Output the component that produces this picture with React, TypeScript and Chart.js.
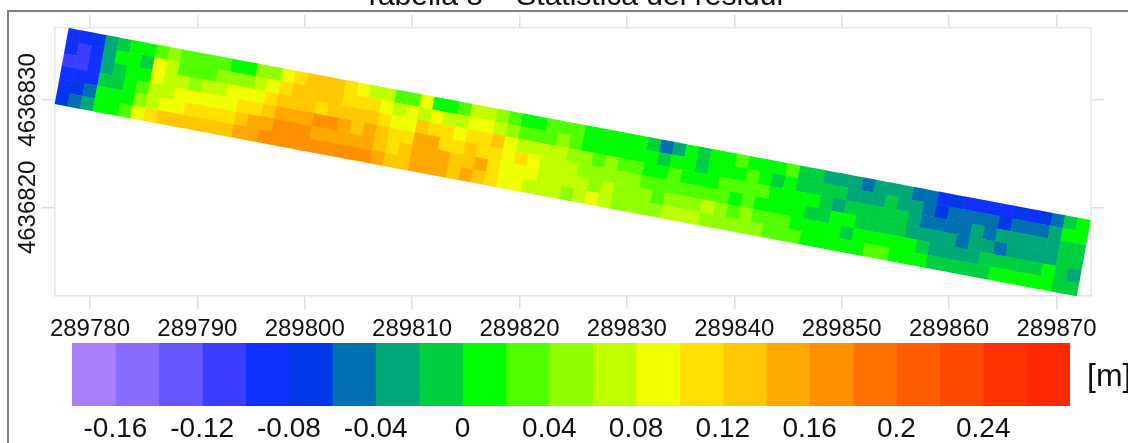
import React, { useEffect, useRef } from "react";
import { Chart, registerables } from "chart.js";

Chart.register(...registerables);

const titleText = "Tabella 8 – Statistica dei residui";
const unitText = "[m]";
const xTicks = [289780, 289790, 289800, 289810, 289820, 289830, 289840, 289850, 289860, 289870];
const yTicks = [4636820, 4636830];
const legendTicks = [-0.16, -0.12, -0.08, -0.04, 0, 0.04, 0.08, 0.12, 0.16, 0.2, 0.24];
const classColors = [
  "#A97FFF", "#8A6BFF", "#6658FF", "#3D3DFF", "#1030FF", "#0038E8", "#0070B0", "#00A878",
  "#00D040", "#00FF00", "#50FF00", "#90FF00", "#C0FF00", "#F0FF00", "#FFE000", "#FFC800",
  "#FFA800", "#FF9000", "#FF7000", "#FF5C00", "#FF4800", "#FF3400", "#FF2800",
];
const classStart = -0.18;
const classStep = 0.02;

// strip corners, map coordinates
const cornerBL = [289776.74, 4636829.63];
const cornerTL = [289778.04, 4636836.68];
const cornerBR = [289871.87, 4636811.75];

// residuals [m], one array per row of the strip, top edge first
const row0 = [
  -.09,-.09,-.07,-.03,-.01,.01,.01,.03,.05,.03,.03,.03,.03,.01,.01,.05,
  .05,.09,.11,.13,.13,.13,.11,.09,.07,.07,.03,.03,.09,.01,.01,.03,
  .07,.07,.05,.03,.01,.01,.03,.03,.03,.01,.01,.01,.01,.01,-.01,-.05,
  -.03,.01,-.01,.01,.01,.03,.01,.01,.01,.03,-.01,-.01,-.03,-.03,-.03,-.05,
  -.03,-.03,-.03,-.05,-.05,-.09,-.07,-.09,-.09,-.09,-.09,-.07,-.09,-.07,-.05,-.01,.01,
];
const row1 = [
  -.09,-.11,-.09,-.03,.01,.01,-.01,.09,.07,.03,.03,.03,.05,.05,.05,.07,
  .09,.11,.13,.13,.13,.13,.11,.11,.11,.09,.07,.09,.07,.09,.07,.07,
  .09,.09,.07,.05,.03,.03,.03,.05,.03,.01,.01,.01,.01,.01,.01,-.01,
  .01,.01,-.01,.01,.01,.01,.03,.01,-.01,.01,-.01,-.01,-.01,-.01,-.03,-.03,
  -.03,-.01,-.03,-.03,-.05,-.07,-.05,-.05,-.05,-.05,-.07,-.05,-.05,-.05,-.03,.01,.01,
];
const row2 = [
  -.11,-.11,-.09,-.03,-.01,.01,.01,.09,.07,.07,.05,.07,.07,.09,.09,.09,
  .11,.13,.13,.13,.11,.13,.13,.13,.13,.11,.09,.09,.13,.11,.11,.09,
  .11,.11,.13,.09,.07,.07,.07,.07,.05,.05,.03,.05,.03,.03,.01,.01,
  .03,.01,.01,.01,.03,.03,.03,.03,.01,.01,.01,.01,-.01,-.03,-.01,-.01,
  -.01,-.01,-.01,-.03,-.05,-.05,-.05,-.05,-.03,-.05,-.03,-.03,-.03,-.03,-.03,-.01,-.01,
];
const row3 = [
  -.09,-.09,-.09,-.01,-.01,.01,.03,.07,.07,.09,.09,.09,.09,.09,.11,.11,
  .13,.15,.15,.15,.17,.17,.15,.13,.15,.13,.11,.11,.15,.15,.11,.11,
  .13,.11,.11,.09,.11,.09,.07,.07,.07,.05,.05,.05,.05,.05,.03,.03,
  .03,.03,.03,.03,.03,.01,.03,.01,.01,.01,.01,-.01,-.01,.01,.01,-.01,
  -.01,-.01,-.01,-.03,-.03,-.03,-.03,-.05,-.03,-.03,-.05,-.03,-.03,-.03,-.03,-.01,-.01,
];
const row4 = [
  -.09,-.07,-.05,.01,.01,.01,.05,.07,.09,.09,.11,.11,.11,.11,.13,.15,
  .15,.17,.17,.17,.15,.15,.15,.15,.15,.13,.11,.13,.15,.15,.15,.13,
  .13,.15,.11,.09,.09,.09,.07,.07,.07,.07,.05,.07,.05,.05,.05,.03,
  .05,.05,.05,.07,.05,.03,.05,.03,.03,.03,.01,.01,.01,.01,-.01,.01,
  .01,.01,.01,.01,-.01,-.03,-.03,-.03,-.03,-.01,-.01,-.01,-.01,-.01,.01,-.01,-.03,
];
const row5 = [
  -.07,-.05,-.03,.01,.01,.03,.09,.11,.13,.13,.13,.13,.13,.13,.15,.15,
  .17,.17,.17,.17,.17,.17,.17,.17,.17,.15,.13,.13,.15,.15,.15,.13,
  .15,.13,.11,.09,.09,.07,.07,.07,.05,.07,.09,.07,.05,.05,.05,.05,
  .07,.07,.07,.05,.05,.05,.05,.05,.03,.03,.03,.01,.01,.01,.01,.01,
  .03,.03,.01,.01,.01,-.01,-.01,-.01,-.01,-.01,.01,.01,.01,.01,.01,-.01,-.01,
];
const rows = [row0, row1, row2, row3, row4, row5];

function classOf(v: number) {
  const i = Math.floor((v - classStart) / classStep + 1e-6);
  return Math.max(0, Math.min(classColors.length - 1, i));
}

function buildCells() {
  const points: { x: number; y: number }[] = [];
  const colors: string[] = [];
  const nRows = rows.length;
  rows.forEach((row, r) => {
    const nCols = row.length;
    row.forEach((v, c) => {
      const u = (c + 0.5) / nCols;
      const w = 1 - (r + 0.5) / nRows;
      points.push({
        x: cornerBL[0] + u * (cornerBR[0] - cornerBL[0]) + w * (cornerTL[0] - cornerBL[0]),
        y: cornerBL[1] + u * (cornerBR[1] - cornerBL[1]) + w * (cornerTL[1] - cornerBL[1]),
      });
      colors.push(classColors[classOf(v)]);
    });
  });
  return { points, colors };
}

const FONT = "'Liberation Sans', Arial, sans-serif";

export default function App() {
  const mapRef = useRef<HTMLCanvasElement>(null);
  const barRef = useRef<HTMLCanvasElement>(null);

  useEffect(() => {
    const { points, colors } = buildCells();
    const gridCommon = { drawOnChartArea: false, color: "#dedede", lineWidth: 1.5, tickLength: 13 };
    const borderCommon = { color: "#e6e6e6", width: 1.5 };
    const xLimits = { min: 289776.7, max: 289873.17 };
    const yLimits = { min: 4636811.75, max: 4636836.7 };

    const map = new Chart(mapRef.current!, {
      type: "scatter",
      data: {
        datasets: [
          {
            data: points,
            backgroundColor: colors,
            borderWidth: 0,
            pointRadius: 9.4,
            pointHoverRadius: 9.4,
            pointStyle: "rect",
            rotation: 10.64,
          } as any,
        ],
      },
      options: {
        animation: false,
        responsive: false,
        events: [],
        layout: { padding: { top: 15, right: 24.5, left: 0, bottom: 0 } },
        plugins: { legend: { display: false }, tooltip: { enabled: false } },
        scales: {
          x: {
            type: "linear",
            position: "bottom",
            ...xLimits,
            afterBuildTicks: (s: any) => { s.ticks = xTicks.map((value) => ({ value })); },
            afterFit: (s: any) => { s.height = 44; },
            grid: gridCommon,
            border: borderCommon,
            ticks: {
              autoSkip: false, maxRotation: 0, minRotation: 0, padding: 6, color: "#111",
              font: { family: FONT, size: 24 },
              callback: (v: any) => String(v),
            },
          },
          y: {
            type: "linear",
            position: "left",
            ...yLimits,
            afterBuildTicks: (s: any) => { s.ticks = yTicks.map((value) => ({ value })); },
            afterFit: (s: any) => { s.width = 54.5; },
            grid: gridCommon,
            border: borderCommon,
            ticks: {
              autoSkip: false, maxRotation: 90, minRotation: 90, padding: -34, crossAlign: "center", color: "#111",
              font: { family: FONT, size: 24 },
              callback: (v: any) => String(v),
            },
          },
          x2: {
            type: "linear",
            axis: "x",
            position: "top",
            ...xLimits,
            afterBuildTicks: (s: any) => { s.ticks = xTicks.map((value) => ({ value })); },
            afterFit: (s: any) => { s.height = 13; },
            grid: gridCommon,
            border: borderCommon,
            ticks: { display: false },
          },
          y2: {
            type: "linear",
            axis: "y",
            position: "right",
            ...yLimits,
            afterBuildTicks: (s: any) => { s.ticks = yTicks.map((value) => ({ value })); },
            afterFit: (s: any) => { s.width = 13; },
            grid: gridCommon,
            border: borderCommon,
            ticks: { display: false },
          },
        } as any,
      },
      plugins: [
        {
          id: "clippedTitle",
          afterDraw(chart: any) {
            const ctx = chart.ctx;
            ctx.save();
            ctx.font = `30px ${FONT}`;
            ctx.fillStyle = "#111";
            ctx.textAlign = "center";
            ctx.textBaseline = "alphabetic";
            ctx.fillText(titleText, 573, 5);
            ctx.restore();
          },
        },
      ],
    });

    const legendBars = classColors.map((color, i) => ({
      data: [[classStart + i * classStep, classStart + (i + 1) * classStep]],
      backgroundColor: color,
      borderWidth: 0,
      barPercentage: 1,
      categoryPercentage: 1,
      grouped: false,
    }));

    const bar = new Chart(barRef.current!, {
      type: "bar",
      data: { labels: ["classes"], datasets: legendBars as any },
      options: {
        indexAxis: "y",
        animation: false,
        responsive: false,
        events: [],
        layout: { padding: { top: 3, left: 72, right: 58, bottom: 0 } },
        plugins: { legend: { display: false }, tooltip: { enabled: false } },
        scales: {
          y: { display: false, stacked: false },
          x: {
            type: "linear",
            min: classStart,
            max: classStart + classColors.length * classStep,
            afterBuildTicks: (s: any) => { s.ticks = legendTicks.map((value) => ({ value })); },
            afterFit: (s: any) => { s.height = 37; },
            grid: { display: false },
            border: { display: false },
            ticks: {
              autoSkip: false, maxRotation: 0, minRotation: 0, padding: -2, color: "#111",
              font: { family: FONT, size: 28 },
              callback: (v: any) => String(v),
            },
          },
        } as any,
      },
      plugins: [
        {
          id: "unitLabel",
          afterDraw(chart: any) {
            const ctx = chart.ctx;
            ctx.save();
            ctx.font = `32px ${FONT}`;
            ctx.fillStyle = "#111";
            ctx.textAlign = "left";
            ctx.textBaseline = "alphabetic";
            ctx.fillText(unitText, 1087, 46);
            ctx.restore();
          },
        },
      ],
    });

    return () => {
      map.destroy();
      bar.destroy();
    };
  }, []);

  return (
    <div style={{ position: "fixed", left: 0, top: 0, width: 1128, height: 443, overflow: "hidden", background: "#fff" }}>
      <div style={{ position: "absolute", left: 7, top: 10, right: 0, bottom: 0, borderLeft: "2px solid #808080", borderTop: "2px solid #808080" }} />
      <canvas ref={mapRef} width={1128} height={340} style={{ position: "absolute", left: 0, top: 0, width: 1128, height: 340 }} />
      <canvas ref={barRef} width={1128} height={103} style={{ position: "absolute", left: 0, top: 340, width: 1128, height: 103 }} />
    </div>
  );
}
